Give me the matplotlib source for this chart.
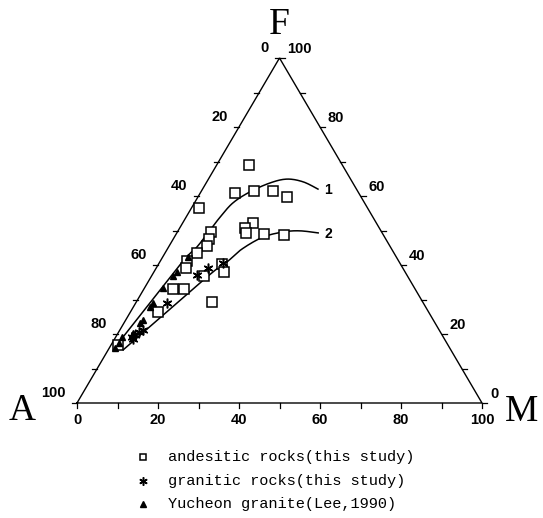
import numpy as np
import matplotlib
matplotlib.use("Agg")
import matplotlib.pyplot as plt

# AFM ternary data (F %, M %; A = 100 - F - M)
andesitic_F = [69.0, 60.9, 61.4, 61.4, 59.7, 56.5, 52.2, 50.7, 49.3, 49.0, 48.7,
               49.6, 47.5, 45.5, 43.5, 41.2, 39.1, 33.0, 33.0, 26.4, 36.8, 40.3,
               38.0, 29.3, 16.8]
andesitic_M = [8.0, 8.5, 13.0, 17.7, 22.0, 1.9, 17.4, 16.1, 17.1, 21.7, 26.8,
               8.3, 8.8, 9.4, 7.9, 6.6, 7.4, 7.2, 9.9, 6.8, 13.0, 15.7,
               17.3, 18.7, 1.7]

granitic_F = [37.1, 39.1, 40.6, 29.0, 21.2, 20.6, 19.7, 19.1, 18.6]
granitic_M = [11.1, 12.8, 15.7, 7.7, 5.7, 5.0, 4.5, 4.0, 4.5]

yucheon_F = [42.3, 38.0, 36.8, 33.3, 29.0, 27.8, 24.1, 23.2, 20.3, 19.1, 15.9, 17.4]
yucheon_M = [6.3, 5.7, 5.3, 4.6, 4.3, 4.1, 4.2, 4.0, 3.7, 1.6, 1.4, 1.7]

# boundary curves 1 and 2
curve1_F = [16.2, 40.0, 45.2, 50.1, 53.9, 58.0, 61.2, 63.8, 64.9, 64.1, 62.0]
curve1_M = [1.3, 5.4, 7.0, 7.8, 8.4, 9.5, 12.1, 15.8, 19.4, 23.8, 28.5]
curve2_F = [15.4, 36.5, 40.9, 44.6, 48.1, 49.6, 49.9, 49.3]
curve2_M = [3.7, 13.8, 16.6, 18.4, 21.9, 26.3, 30.1, 34.9]

tick_values = [0, 20, 40, 60, 80, 100]
legend_labels = ["andesitic rocks(this study)",
                 "granitic rocks(this study)",
                 "Yucheon granite(Lee,1990)"]

PX_X = 4.05   # pixels per unit along x
PX_Y = 3.45   # pixels per F unit (vertical)


def to_xy(F, M):
    F = np.asarray(F, dtype=float)
    M = np.asarray(M, dtype=float)
    return M + F / 2.0, F


def smooth_line(x, y, steps=20):
    # Catmull-Rom through the read points, only to draw a smooth line
    pts = np.column_stack([x, y])
    pts = np.vstack([pts[0], pts, pts[-1]])
    out = []
    t = np.linspace(0, 1, steps, endpoint=False)[:, None]
    for i in range(1, len(pts) - 2):
        p0, p1, p2, p3 = pts[i - 1], pts[i], pts[i + 1], pts[i + 2]
        seg = 0.5 * ((2 * p1) + (-p0 + p2) * t
                     + (2 * p0 - 5 * p1 + 4 * p2 - p3) * t ** 2
                     + (-p0 + 3 * p1 - 3 * p2 + p3) * t ** 3)
        out.append(seg)
    out.append(pts[-2][None, :])
    out = np.vstack(out)
    return out[:, 0], out[:, 1]


fig = plt.figure(figsize=(5.43, 5.18), dpi=100)
ax = fig.add_axes([0, 0, 1, 1])
ax.set_xlim(-77 / PX_X, (543 - 77) / PX_X)
ax.set_ylim(-(518 - 403) / PX_Y, 403 / PX_Y)
ax.axis("off")

# triangle frame
ax.plot([0, 100, 50, 0], [0, 0, 100, 0], color="black", lw=1.0, solid_joinstyle="miter")

tick_len_x = 5 / PX_X
tick_len_y = 5 / PX_Y
num_font = dict(fontsize=10.5, fontweight="bold", family="Liberation Sans")
for v in range(0, 101, 10):
    # bottom edge (M)
    ax.plot([v, v], [0, -tick_len_y], color="black", lw=0.9)
    # left edge (A-F), F = 100 - v
    lx, ly = to_xy(100 - v, 0)
    ax.plot([lx, lx - tick_len_x], [ly, ly], color="black", lw=0.9)
    # right edge (F-M), F = v
    rx, ry = to_xy(v, 100 - v)
    ax.plot([rx, rx + tick_len_x], [ry, ry], color="black", lw=0.9)

for v in tick_values:
    ax.text(v, -17 / PX_Y, str(v), ha="center", va="center", **num_font)
    lx, ly = to_xy(100 - v, 0)
    ax.text(lx - 11 / PX_X, ly + 10 / PX_Y, str(v), ha="right", va="center", **num_font)
    rx, ry = to_xy(v, 100 - v)
    ax.text(rx + 8 / PX_X, ry + 9 / PX_Y, str(v), ha="left", va="center", **num_font)

# vertex labels
vert_font = dict(fontsize=27, family="Liberation Serif")
ax.text(50, 100 + 33 / PX_Y, "F", ha="center", va="center", **vert_font)
ax.text(-55 / PX_X, -8 / PX_Y, "A", ha="center", va="center", **vert_font)
ax.text(100 + 40 / PX_X, -9 / PX_Y, "M", ha="center", va="center", **vert_font)

# curves
for cF, cM, lab in [(curve1_F, curve1_M, "1"), (curve2_F, curve2_M, "2")]:
    cx, cy = to_xy(cF, cM)
    sx, sy = smooth_line(cx, cy)
    ax.plot(sx, sy, color="black", lw=1.1)
    ax.text(cx[-1] + 10 / PX_X, cy[-1] - 1 / PX_Y, lab, ha="center", va="center",
            fontsize=10, fontweight="bold", family="Liberation Sans")

asterisk = (6, 2, 0)

x, y = to_xy(andesitic_F, andesitic_M)
ax.plot(x, y, ls="none", marker="s", ms=6.8, mfc="white", mec="black", mew=1.1)
x, y = to_xy(granitic_F, granitic_M)
ax.plot(x, y, ls="none", marker=asterisk, ms=7, color="black", mew=1.1)
x, y = to_xy(yucheon_F, yucheon_M)
ax.plot(x, y, ls="none", marker="^", ms=5, mfc="black", mec="black")

# legend at the bottom
leg_mx = (143 - 77) / PX_X
leg_tx = (168 - 77) / PX_X
leg_rows = [(403 - 457) / PX_Y, (403 - 481) / PX_Y, (403 - 504) / PX_Y]
ax.plot([leg_mx], [leg_rows[0]], ls="none", marker="s", ms=5, mfc="white", mec="black", mew=1.1)
ax.plot([leg_mx], [leg_rows[1]], ls="none", marker=asterisk, ms=6, color="black", mew=1.1)
ax.plot([leg_mx], [leg_rows[2]], ls="none", marker="^", ms=4, mfc="black", mec="black")
for row, label in zip(leg_rows, legend_labels):
    ax.text(leg_tx, row, label, ha="left", va="center", fontsize=11,
            family="Liberation Mono")

fig.savefig("out.png", dpi=100)
